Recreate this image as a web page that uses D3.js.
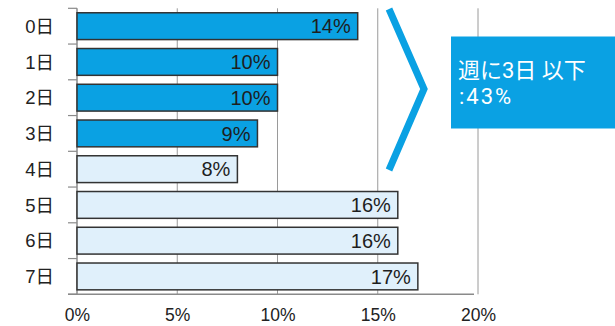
<!DOCTYPE html>
<html>
<head>
<meta charset="utf-8">
<script src="https://cdn.jsdelivr.net/npm/d3@7"></script>
<style>
  html, body { margin: 0; padding: 0; background: #fff; }
  svg { display: block; font-family: "Liberation Sans", Arial, "Noto Sans CJK JP", sans-serif; }
</style>
</head>
<body>
<svg id="chart" width="615" height="326"></svg>
<script>
// Days per week and share of respondents
const days = ["0日", "1日", "2日", "3日", "4日", "5日", "6日", "7日"];
const shares = [14, 10, 10, 9, 8, 16, 16, 17];
const xTicks = [0, 5, 10, 15, 20];
const groupSize = 4; // 0–3 days form the highlighted group
const groupLabel = "週に3日 以下";

const svg = d3.select("#chart");
const plotLeft = 77, plotRight = 478, plotTop = 8.3, plotBottom = 294.3;

const x = d3.scaleLinear().domain([0, 20]).range([plotLeft, plotRight]);
const y = d3.scaleBand().domain(days).range([plotTop, plotBottom])
  .paddingInner(0.25).paddingOuter(0.125);

// vertical gridlines
svg.append("g").selectAll("line")
  .data(xTicks.slice(1))
  .join("line")
  .attr("x1", d => x(d)).attr("x2", d => x(d))
  .attr("y1", plotTop).attr("y2", plotBottom)
  .attr("stroke", "#9a9a9a").attr("stroke-width", 1);

// x axis
const xAxis = svg.append("g")
  .attr("transform", `translate(0,${plotBottom})`)
  .call(d3.axisBottom(x).tickValues(xTicks).tickFormat(d => d + "%").tickSize(0).tickPadding(14));
xAxis.select(".domain").remove();
xAxis.append("line")
  .attr("x1", plotLeft - 9).attr("x2", plotRight - 4)
  .attr("stroke", "#8a8a8a").attr("stroke-width", 1.5);
xAxis.selectAll("text")
  .attr("font-size", 17.5).attr("fill", "#222")
  .attr("font-family", "'Liberation Sans', Arial, sans-serif");

// y axis with ticks at band boundaries
const yAxis = svg.append("g");
yAxis.append("line")
  .attr("x1", plotLeft).attr("x2", plotLeft).attr("y1", plotTop).attr("y2", plotBottom)
  .attr("stroke", "#8a8a8a").attr("stroke-width", 1.5);
const bounds = days.map(d => y(d) - y.step() * y.paddingInner() / 2).concat([plotBottom]);
yAxis.selectAll("line.tk")
  .data(bounds)
  .join("line").attr("class", "tk")
  .attr("x1", plotLeft - 9).attr("x2", plotLeft)
  .attr("y1", d => d).attr("y2", d => d)
  .attr("stroke", "#8a8a8a").attr("stroke-width", 1.2);
yAxis.selectAll("text")
  .data(days)
  .join("text")
  .attr("x", 54)
  .attr("y", d => y(d) + y.bandwidth() / 2)
  .attr("dy", "0.36em")
  .attr("text-anchor", "end")
  .attr("font-size", 18.5)
  .attr("fill", "#222")
  .text(d => d);

// bars
const rows = days.map((d, i) => ({ day: d, value: shares[i], hi: i < groupSize }));
svg.append("g").selectAll("rect")
  .data(rows)
  .join("rect")
  .attr("x", x(0))
  .attr("y", d => y(d.day))
  .attr("width", d => x(d.value) - x(0))
  .attr("height", y.bandwidth())
  .attr("fill", d => d.hi ? "#0aa1e3" : "#e0f0fb")
  .attr("stroke", "#333")
  .attr("stroke-width", 1.5);

// value labels inside bar ends
svg.append("g").selectAll("text")
  .data(rows)
  .join("text")
  .attr("x", d => x(d.value) - 7)
  .attr("y", d => y(d.day) + y.bandwidth() / 2)
  .attr("dy", "0.36em")
  .attr("text-anchor", "end")
  .attr("font-size", 20)
  .attr("fill", "#1e1e1e")
  .text(d => d.value + "%");

// chevron bracket
svg.append("polyline")
  .attr("points", "389,9 424,89 389,170")
  .attr("fill", "none")
  .attr("stroke", "#0aa1e3")
  .attr("stroke-width", 7)
  .attr("stroke-linejoin", "miter");

// summary box
const groupTotal = d3.sum(shares.slice(0, groupSize));
svg.append("rect")
  .attr("x", 451).attr("y", 36.5)
  .attr("width", 170).attr("height", 92)
  .attr("fill", "#0aa1e3");
const sumText = svg.append("text")
  .attr("fill", "#fff")
  .attr("font-size", 22)
  .attr("font-family", "Roboto, 'Noto Sans CJK JP', sans-serif");
sumText.append("tspan").attr("x", 458).attr("y", 78).text(groupLabel);
sumText.append("tspan").attr("x", 459).attr("y", 104)
  .attr("letter-spacing", 2)
  .text(":" + groupTotal + "%");
</script>
</body>
</html>
